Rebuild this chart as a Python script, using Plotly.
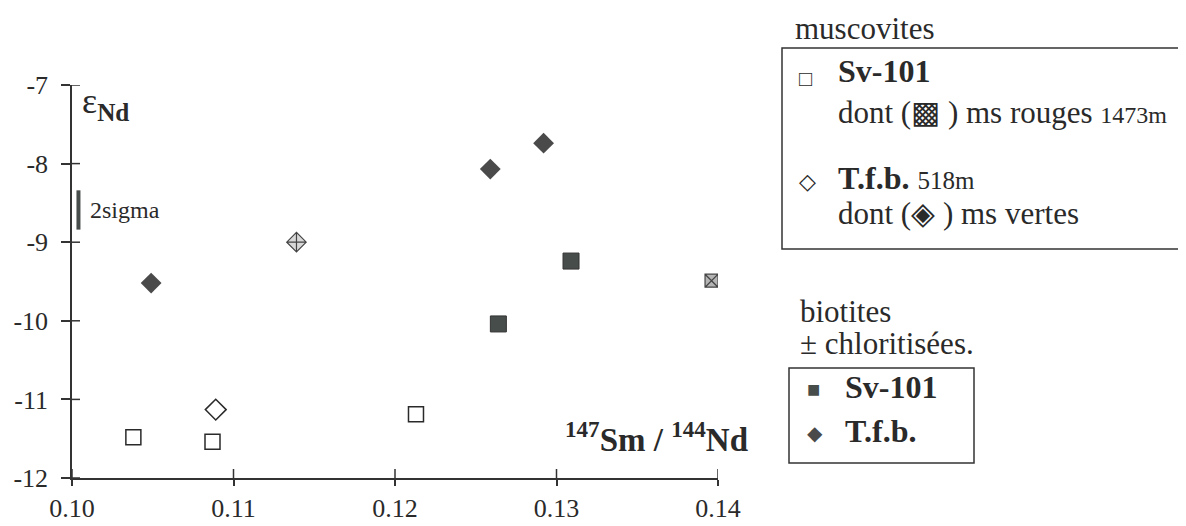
import plotly.graph_objects as go

# muscovites Sv-101 (open squares)
ms_sv_x = [0.1038, 0.1087, 0.1213]
ms_sv_y = [-11.48, -11.54, -11.19]
# Sv-101 ms rouges 1473m (hatched square)
ms_rouge_x = [0.1396]
ms_rouge_y = [-9.49]
# muscovites T.f.b. (open diamond)
ms_tfb_x = [0.1089]
ms_tfb_y = [-11.13]
# T.f.b. ms vertes (hatched diamond)
ms_verte_x = [0.1139]
ms_verte_y = [-9.00]
# biotites Sv-101 (filled squares)
bt_sv_x = [0.1264, 0.1309]
bt_sv_y = [-10.04, -9.24]
# biotites T.f.b. (filled diamonds)
bt_tfb_x = [0.1049, 0.1259, 0.1292]
bt_tfb_y = [-9.52, -8.07, -7.74]

x_ticks = [0.10, 0.11, 0.12, 0.13, 0.14]
x_ticklabels = ["0.10", "0.11", "0.12", "0.13", "0.14"]
y_ticks = [-12, -11, -10, -9, -8, -7]
y_ticklabels = ["-12", "-11", "-10", "-9", "-8", "-7"]
sigma_x = 0.1004
sigma_y = [-8.34, -8.84]

SERIF = "Liberation Serif, Times New Roman, serif"
INK = "#2a2a2a"
DARK = "#474d4a"

# the page body adds an 8px margin, so everything is placed 8px up/left
OFF = 8
# plot area in page pixels
L, R, T, B = 72 - OFF, 718 - OFF, 85 - OFF, 478 - OFF


def px(xp):
    return (xp - OFF - L) / (R - L)


def py(yp):
    return (B - (yp - OFF)) / (B - T)


fig = go.Figure()

fig.add_trace(go.Scatter(x=ms_sv_x, y=ms_sv_y, mode="markers",
                         marker=dict(symbol="square-open", size=15, color=INK, line=dict(width=1.5))))
fig.add_trace(go.Scatter(x=ms_tfb_x, y=ms_tfb_y, mode="markers",
                         marker=dict(symbol="diamond-open", size=16, color=INK, line=dict(width=1.5))))
fig.add_trace(go.Scatter(x=ms_rouge_x, y=ms_rouge_y, mode="markers",
                         marker=dict(symbol="square-x", size=13, color="#b5b5b5",
                                     line=dict(width=1.2, color="#444"))))
fig.add_trace(go.Scatter(x=ms_verte_x, y=ms_verte_y, mode="markers",
                         marker=dict(symbol="diamond-cross", size=15, color="#d8d8d8",
                                     line=dict(width=1.2, color="#444"))))
fig.add_trace(go.Scatter(x=bt_sv_x, y=bt_sv_y, mode="markers",
                         marker=dict(symbol="square", size=16, color=DARK, line=dict(width=1, color="#333"))))
fig.add_trace(go.Scatter(x=bt_tfb_x, y=bt_tfb_y, mode="markers",
                         marker=dict(symbol="diamond", size=16, color="#4a4a4a", line=dict(width=0))))

# inner half of the ticks (the ticks cross the axes in the original)
for t in x_ticks:
    fig.add_shape(type="line", xref="x", yref="paper", x0=t, x1=t, y0=0, y1=9 / (B - T),
                  line=dict(color="#333", width=1.5))
for t in y_ticks:
    fig.add_shape(type="line", xref="paper", yref="y", x0=0, x1=8 / (R - L), y0=t, y1=t,
                  line=dict(color="#333", width=1.5))

# 2 sigma bar
fig.add_shape(type="line", x0=sigma_x, x1=sigma_x, y0=sigma_y[0], y1=sigma_y[1],
              line=dict(color=DARK, width=4))
fig.add_annotation(x=px(88), y=(sigma_y[0] + sigma_y[1]) / 2, xref="paper", yref="y",
                   text="2sigma", showarrow=False, xanchor="left",
                   font=dict(family=SERIF, size=24, color=INK))

# axis labels
fig.add_annotation(x=px(80), y=py(79), xref="paper", yref="paper", showarrow=False, xanchor="left",
                   text="ε<sub><b>Nd</b></sub>", font=dict(family=SERIF, size=36, color=INK))
fig.add_annotation(x=px(750), y=py(460), xref="paper", yref="paper", showarrow=False, xanchor="right",
                   text="<b><sup>147</sup>Sm / <sup>144</sup>Nd</b>",
                   font=dict(family=SERIF, size=33, color=INK))

# ---- legend, drawn by hand ----
def txt(x, y, s, size=31, color=INK):
    fig.add_annotation(x=px(x), y=py(y), xref="paper", yref="paper", text=s, showarrow=False,
                       xanchor="left", yanchor="middle", font=dict(family=SERIF, size=size, color=color))


def box(x0, y0, x1, y1):
    fig.add_shape(type="rect", xref="paper", yref="paper", x0=px(x0), x1=px(x1), y0=py(y0), y1=py(y1),
                  line=dict(color="#333", width=1.5))


txt(793, 28, "muscovites")
box(782, 48, 1260, 249)
txt(797, 78, "□", size=22)
txt(836, 71, "<b>Sv-101</b>", size=32)
txt(836, 113, "dont (▩ ) ms rouges <span style='font-size:24px'>1473m</span>")
txt(797, 181, "◇", size=22)
txt(836, 178, "<b>T.f.b.</b> <span style='font-size:25px'>518m</span>", size=32)
txt(836, 213, "dont (◈ ) ms vertes")

txt(798, 311, "biotites")
txt(798, 343, "± chloritisées.")
box(789, 368, 974, 463)
txt(805, 389, "■", size=22, color=DARK)
txt(843, 387, "<b>Sv-101</b>", size=32)
txt(805, 433, "◆", size=20, color="#4a4a4a")
txt(843, 431, "<b>T.f.b.</b>", size=32)

axis_common = dict(showgrid=False, zeroline=False, linecolor="#333", linewidth=1.5,
                   tickcolor="#333", tickwidth=1.5, automargin=False, showline=True,
                   ticks="outside")

fig.update_layout(
    width=1186, height=526,
    margin=dict(l=L, r=1186 - R, t=T, b=526 - B),
    paper_bgcolor="white", plot_bgcolor="white",
    showlegend=False,
    font=dict(family=SERIF, size=26, color=INK),
    xaxis=dict(range=[0.10, 0.14], tickvals=x_ticks, ticktext=x_ticklabels,
               ticklen=6, ticklabelstandoff=0, **axis_common),
    yaxis=dict(range=[-12, -7], tickvals=y_ticks, ticktext=y_ticklabels,
               ticklen=9, ticklabelstandoff=8, **axis_common),
)

fig.write_html("out.html")
